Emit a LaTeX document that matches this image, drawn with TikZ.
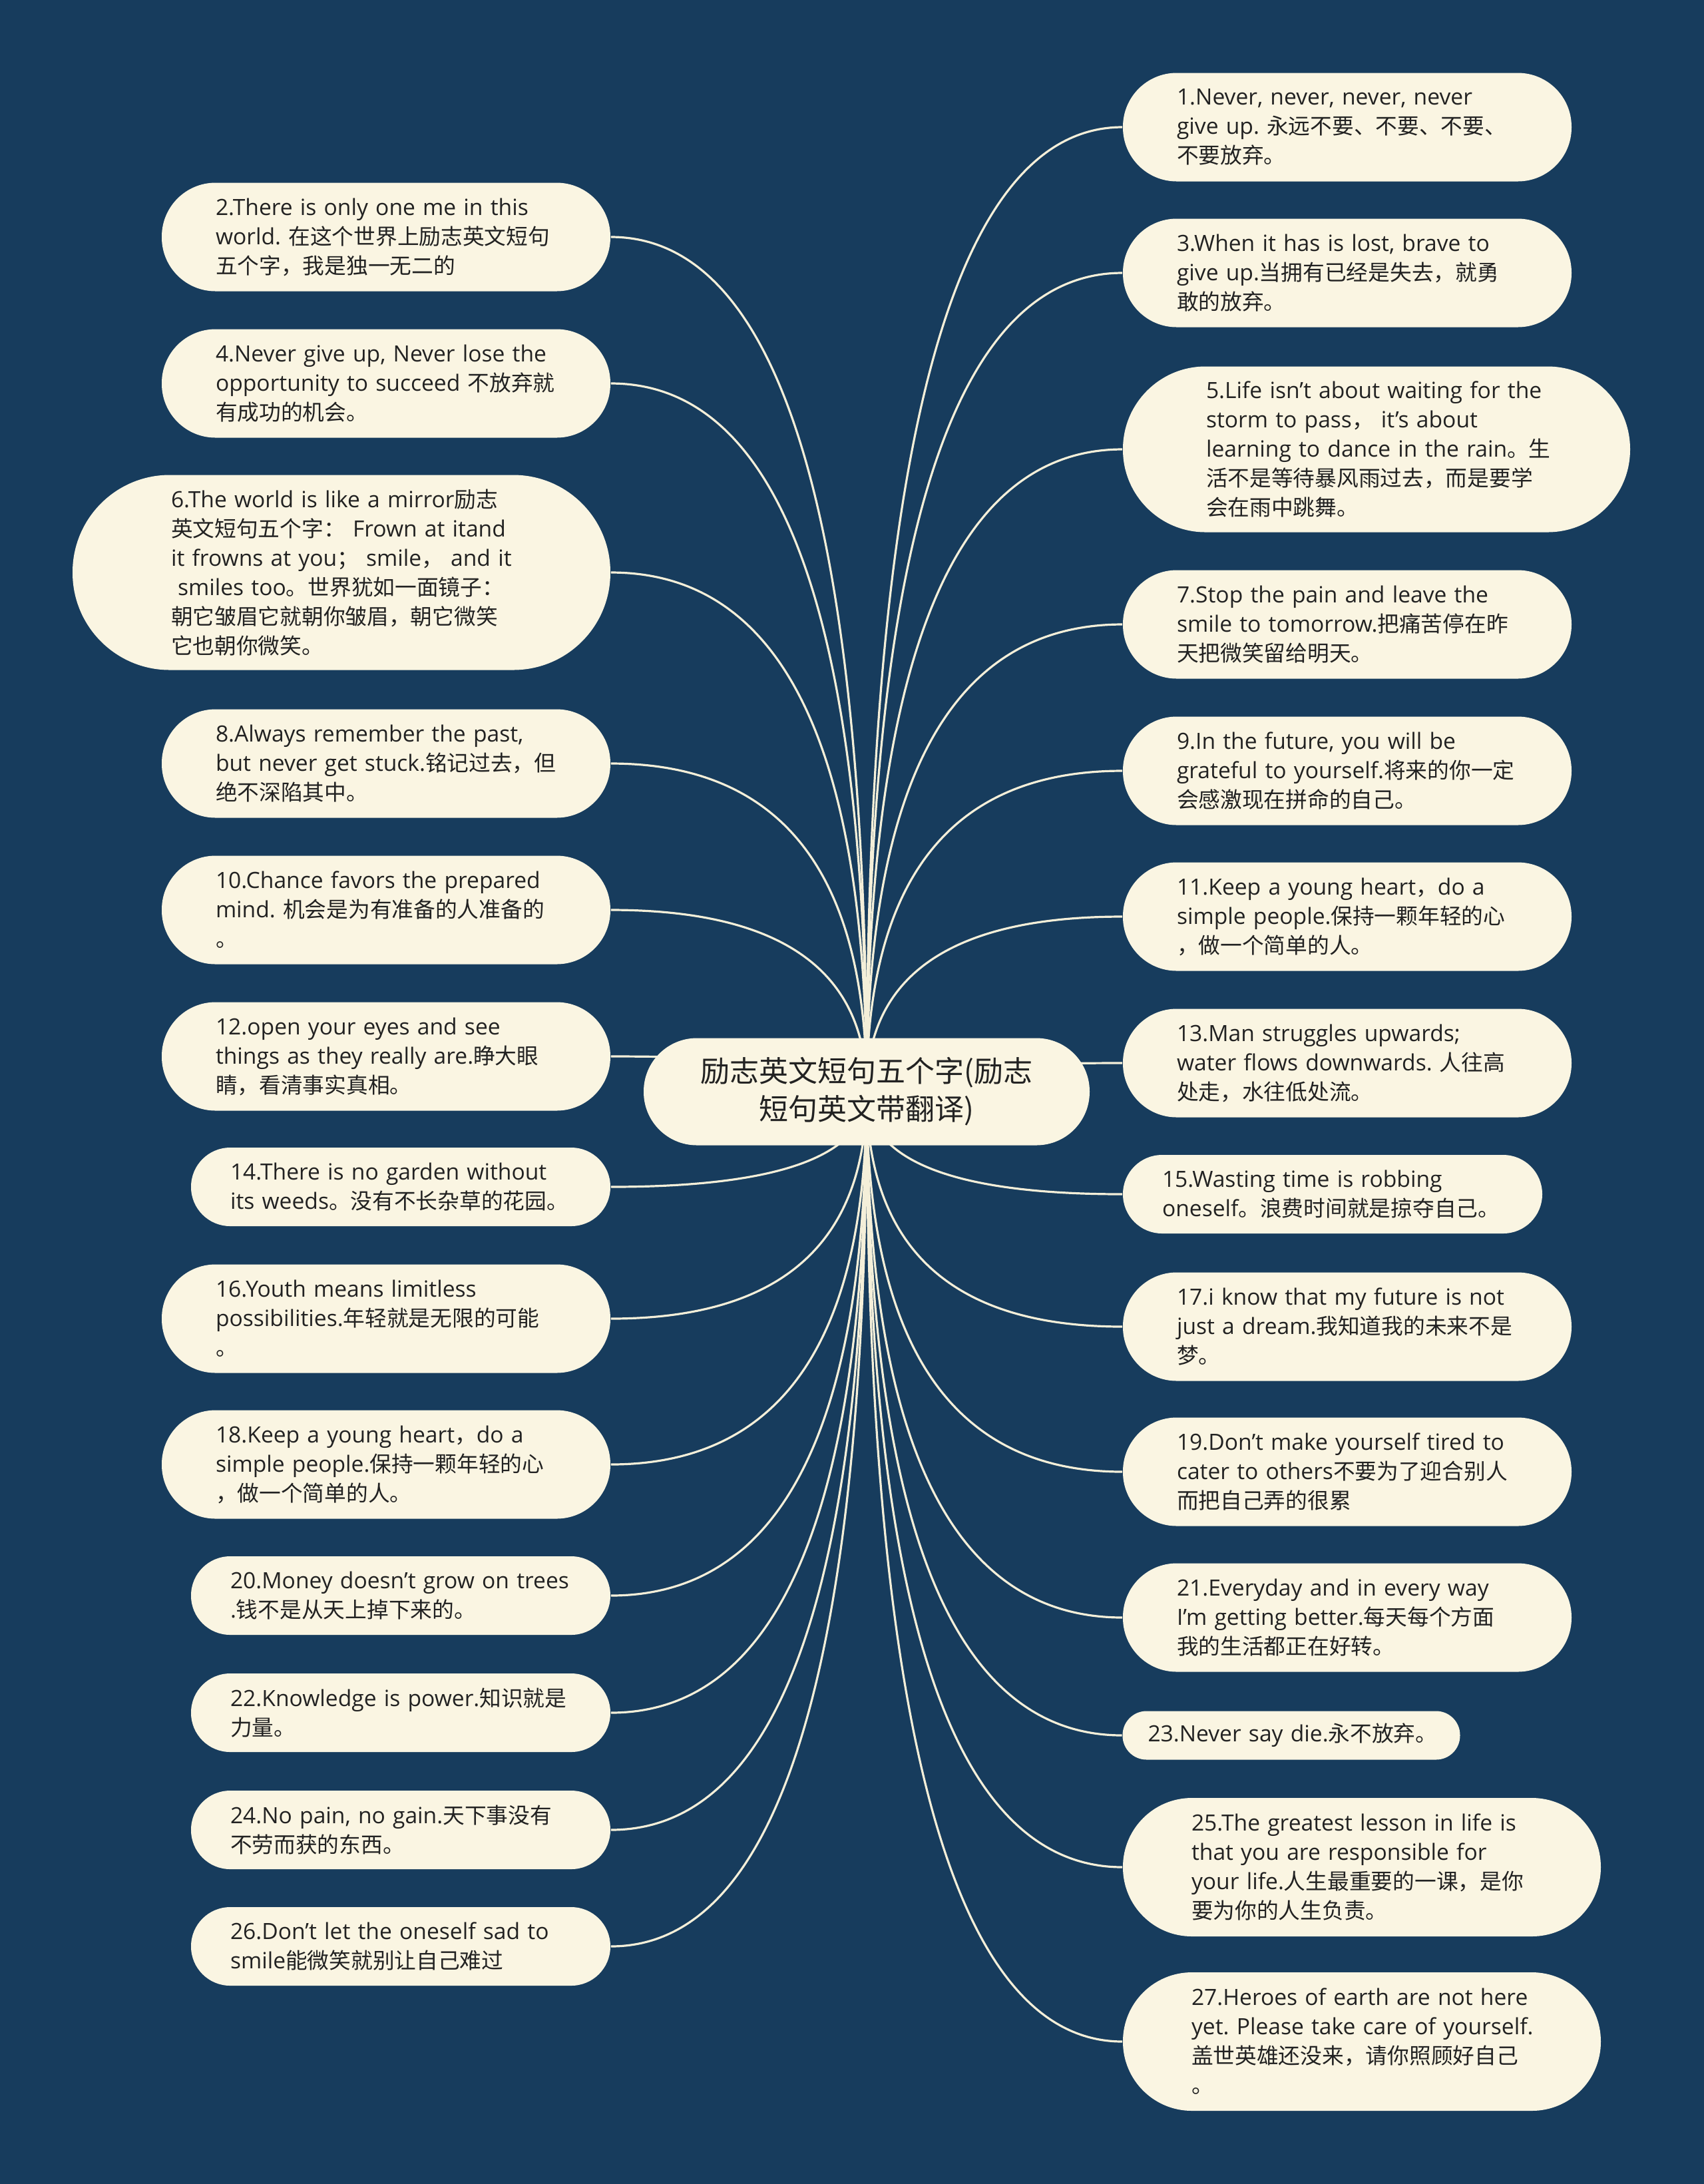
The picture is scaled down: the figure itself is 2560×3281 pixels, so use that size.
\documentclass[tikz,border=0pt]{standalone}
\usepackage{fontspec}
\setmainfont{Open Sans}
\newfontfamily\cjk{Noto Sans CJK SC}[Scale=0.974]
\newfontfamily\cjkc{Noto Sans CJK SC}
\usetikzlibrary{calc}
\definecolor{bgc}{HTML}{173C5D}
\definecolor{boxc}{HTML}{FAF5E2}
\definecolor{txtc}{HTML}{222222}
\definecolor{linec}{HTML}{F4EFD9}
\newcommand\zh[1]{{\cjk #1}}
\frenchspacing
\pgfdeclarelayer{bgl}
\pgfdeclarelayer{edgel}
\pgfsetlayers{bgl,edgel,main}
\tikzset{
  leafbox/.style={fill=boxc, draw=none, text=txtc, inner sep=0pt, align=left,
    font=\fontsize{8.4pt}{11pt}\selectfont, text width=136pt,
    execute at begin node={\leftskip=4pt\relax}},
  bxOne/.style={leafbox, minimum width=126.75pt, minimum height=18.25pt, rounded corners=9pt, text width=115.75pt},
  bxTwo/.style={leafbox, minimum width=157.5pt, minimum height=29.5pt, rounded corners=14.7pt},
  bxThree/.style={leafbox, minimum width=168.5pt, minimum height=40.75pt, rounded corners=20.2pt},
  bxFour/.style={leafbox, minimum width=179.5pt, minimum height=52pt, rounded corners=25.9pt},
  bxFive/.style={leafbox, minimum width=190.5pt, minimum height=62.25pt, rounded corners=31pt},
  bxSix/.style={leafbox, minimum width=202pt, minimum height=73.25pt, rounded corners=36.5pt},
  rootbox/.style={fill=boxc, draw=none, text=txtc, inner sep=0pt, align=center,
    minimum width=167.5pt, minimum height=40.25pt, rounded corners=20pt,
    font=\cjkc\fontsize{11pt}{14.25pt}\selectfont},
  link/.style={draw=linec, line width=0.8pt},
}
\newcommand\lk[1]{\draw[link] (c.center) .. controls ($(c.center)!0.6667!(c.center |- #1)$) and ($(#1)!0.6667!(c.center |- #1)$) .. (#1);}
\begin{document}
\begin{tikzpicture}[x=0.25pt,y=-0.25pt]
\begin{pgfonlayer}{bgl}
\fill[bgc] (0,0) rectangle (2560,3281);
\end{pgfonlayer}
\path[use as bounding box] (0,0) rectangle (2560,3281);

\node[rootbox] (c) at (1302,1640) {励志英文短句五个字(励志\\短句英文带翻译)};

% right side
\node[bxThree] (n1) at (2024,191) {1.Never, never, never, never\\give up. \zh{永远不要、不要、不要、}\\\zh{不要放弃。}};
\node[bxThree] (n3) at (2024,410) {3.When it has is lost, brave to\\give up.\zh{当拥有已经是失去，就勇}\\\zh{敢的放弃。}};
\node[bxFive] (n5) at (2068,675) {5.Life isn't about waiting for the\\storm to pass\zh{，} it's about\\learning to dance in the rain\zh{。生}\\\zh{活不是等待暴风雨过去，而是要学}\\\zh{会在雨中跳舞。}};
\node[bxThree] (n7) at (2024,938) {7.Stop the pain and leave the\\smile to tomorrow.\zh{把痛苦停在昨}\\\zh{天把微笑留给明天。}};
\node[bxThree] (n9) at (2024,1158) {9.In the future, you will be\\grateful to yourself.\zh{将来的你一定}\\\zh{会感激现在拼命的自己。}};
\node[bxThree] (n11) at (2024,1377) {11.Keep a young heart\zh{，}do a\\simple people.\zh{保持一颗年轻的心}\\\zh{，做一个简单的人。}};
\node[bxThree] (n13) at (2024,1597) {13.Man struggles upwards;\\water flows downwards. \zh{人往高}\\\zh{处走，水往低处流。}};
\node[bxTwo] (n15) at (2002,1794) {15.Wasting time is robbing\\oneself\zh{。浪费时间就是掠夺自己。}};
\node[bxThree] (n17) at (2024,1993) {17.i know that my future is not\\just a dream.\zh{我知道我的未来不是}\\\zh{梦。}};
\node[bxThree] (n19) at (2024,2211) {19.Don't make yourself tired to\\cater to others\zh{不要为了迎合别人}\\\zh{而把自己弄的很累}};
\node[bxThree] (n21) at (2024,2430) {21.Everyday and in every way\\I'm getting better.\zh{每天每个方面}\\\zh{我的生活都正在好转。}};
\node[bxOne] (n23) at (1940,2607) {23.Never say die.\zh{永不放弃。}};
\node[bxFour] (n25) at (2046,2805) {25.The greatest lesson in life is\\that you are responsible for\\your life.\zh{人生最重要的一课，是你}\\\zh{要为你的人生负责。}};
\node[bxFour] (n27) at (2046,3067) {27.Heroes of earth are not here\\yet. Please take care of yourself.\\\zh{盖世英雄还没来，请你照顾好自己}\\\zh{。}};

% left side
\node[bxThree] (n2) at (580,356) {2.There is only one me in this\\world. \zh{在这个世界上励志英文短句}\\\zh{五个字，我是独一无二的}};
\node[bxThree] (n4) at (580,576) {4.Never give up, Never lose the\\opportunity to succeed \zh{不放弃就}\\\zh{有成功的机会。}};
\node[bxSix] (n6) at (513,860) {6.The world is like a mirror\zh{励志}\\\zh{英文短句五个字：} Frown at itand\\it frowns at you\zh{；} smile\zh{，} and it\\\hspace*{0.3em}smiles too\zh{。世界犹如一面镜子：}\\\zh{朝它皱眉它就朝你皱眉，朝它微笑}\\\zh{它也朝你微笑。}};
\node[bxThree] (n8) at (580,1147) {8.Always remember the past,\\but never get stuck.\zh{铭记过去，但}\\\zh{绝不深陷其中。}};
\node[bxThree] (n10) at (580,1367) {10.Chance favors the prepared\\mind. \zh{机会是为有准备的人准备的}\\\zh{。}};
\node[bxThree] (n12) at (580,1587) {12.open your eyes and see\\things as they really are.\zh{睁大眼}\\\zh{睛，看清事实真相。}};
\node[bxTwo] (n14) at (602,1783) {14.There is no garden without\\its weeds\zh{。没有不长杂草的花园。}};
\node[bxThree] (n16) at (580,1981) {16.Youth means limitless\\possibilities.\zh{年轻就是无限的可能}\\\zh{。}};
\node[bxThree] (n18) at (580,2200) {18.Keep a young heart\zh{，}do a\\simple people.\zh{保持一颗年轻的心}\\\zh{，做一个简单的人。}};
\node[bxTwo] (n20) at (602,2397) {20.Money doesn't grow on trees\\.\zh{钱不是从天上掉下来的。}};
\node[bxTwo] (n22) at (602,2573) {22.Knowledge is power.\zh{知识就是}\\\zh{力量。}};
\node[bxTwo] (n24) at (602,2749) {24.No pain, no gain.\zh{天下事没有}\\\zh{不劳而获的东西。}};
\node[bxTwo] (n26) at (602,2924) {26.Don't let the oneself sad to\\smile\zh{能微笑就别让自己难过}};

\begin{pgfonlayer}{edgel}
\lk{n1.west}\lk{n3.west}\lk{n5.west}\lk{n7.west}\lk{n9.west}\lk{n11.west}\lk{n13.west}
\lk{n15.west}\lk{n17.west}\lk{n19.west}\lk{n21.west}\lk{n23.west}\lk{n25.west}\lk{n27.west}
\lk{n2.east}\lk{n4.east}\lk{n6.east}\lk{n8.east}\lk{n10.east}\lk{n12.east}\lk{n14.east}
\lk{n16.east}\lk{n18.east}\lk{n20.east}\lk{n22.east}\lk{n24.east}\lk{n26.east}
\end{pgfonlayer}
\end{tikzpicture}
\end{document}
